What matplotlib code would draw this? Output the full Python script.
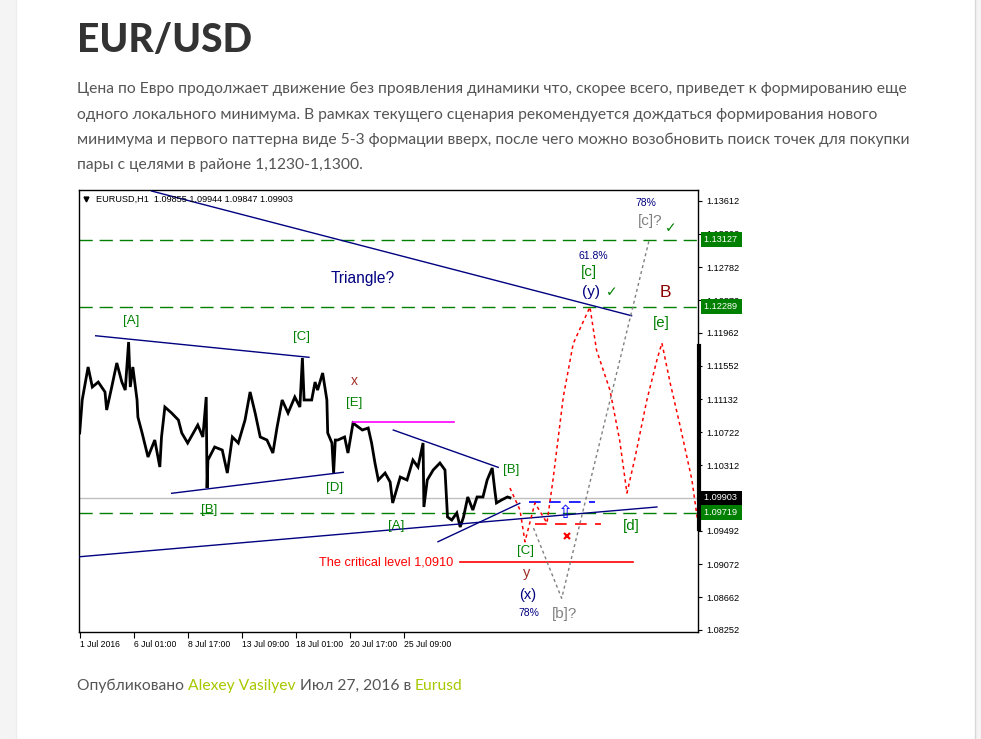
import matplotlib
matplotlib.use('Agg')
import matplotlib.pyplot as plt
from matplotlib.patches import Rectangle

# ---- data (bar index = hours since 1 Jul 2016, price) ----
bars = [0, 3, 10, 15, 22, 30, 32, 38, 44, 50, 54, 58, 60, 63, 68, 69, 74, 81, 89, 95,
        97, 101, 109, 117, 121, 128, 140, 146, 150, 151, 152, 160, 169, 175, 181, 188,
        196, 202, 208, 214, 222, 229, 234, 240, 247, 255, 261, 264, 266, 275, 279, 282,
        288, 293, 294, 299, 301, 303, 306, 314, 318, 324, 335, 342, 346, 350, 354, 362,
        368, 371, 380, 388, 395, 401, 407, 408, 412, 419, 427, 433, 436, 441, 447, 451,
        455, 460, 466, 471, 478, 483, 489, 492, 494, 500, 507, 510]
closes = [1.10712, 1.11124, 1.11536, 1.11286, 1.11348, 1.11224, 1.10999, 1.11286,
          1.11586, 1.11348, 1.11248, 1.11848, 1.11286, 1.11536, 1.11124, 1.10911,
          1.10712, 1.10412, 1.10624, 1.10287, 1.10662, 1.11036, 1.10961, 1.10874,
          1.10712, 1.10587, 1.10811, 1.10662, 1.11161, 1.10025, 1.10374, 1.10537,
          1.10499, 1.10212, 1.10662, 1.10587, 1.10874, 1.11224, 1.10961, 1.10662,
          1.10624, 1.10462, 1.10786, 1.11124, 1.10961, 1.11161, 1.11036, 1.11648,
          1.11124, 1.11124, 1.11348, 1.11248, 1.11461, 1.11124, 1.10712, 1.10587,
          1.10212, 1.10624, 1.10624, 1.10662, 1.10462, 1.10836, 1.10749, 1.10774,
          1.10587, 1.10337, 1.10125, 1.10212, 1.10100, 1.09838, 1.10162, 1.10125,
          1.10374, 1.10287, 1.10587, 1.09788, 1.10125, 1.10250, 1.10337, 1.10250,
          1.09663, 1.09625, 1.09713, 1.09538, 1.09663, 1.09913, 1.09750, 1.09913,
          1.09913, 1.10125, 1.10275, 1.10000, 1.09838, 1.09875, 1.09913, 1.09903]

y_ticks = [1.13612, 1.13202, 1.12782, 1.12372, 1.11962, 1.11552, 1.11132, 1.10722,
           1.10312, 1.09902, 1.09492, 1.09072, 1.08662, 1.08252]
hidden_tick = 1.09902  # fully covered by the last-price box
x_tick_bars = [0, 64, 128, 192, 256, 320, 384]
x_tick_labels = ['1 Jul 2016', '6 Jul 01:00', '8 Jul 17:00', '13 Jul 09:00',
                 '18 Jul 01:00', '20 Jul 17:00', '25 Jul 09:00']

green_levels = [1.13127, 1.12289, 1.09719]
last_price = 1.09903
critical_level = 1.0910

# trend lines: (bar0, price0, bar1, price1)
trend_lines = [(85.3, 1.13733, 654.2, 1.12176),
               (19.0, 1.11926, 271.8, 1.11657),
               (109.0, 1.09959, 312.4, 1.10221),
               (371.7, 1.10749, 496.1, 1.10283),
               (-0.8, 1.09166, 684.2, 1.09788),
               (424.7, 1.09354, 521.6, 1.09834)]
magenta_line = (323.9, 443.6, 1.10843)
critical_span = (450.7, 655.7)
blue_dash = (532.5, 610.7, 1.09846)
red_dash = (539.6, 617.9, 1.09575)

red_path_bars = [510, 521.9, 527.8, 539.6, 553.9, 561, 573.3, 585, 604.8, 612.6, 628.5,
                 640, 648.7, 658.5, 672.3, 684.2, 690.1, 700, 711.9, 725.7, 733]
red_path_prices = [1.10025, 1.09750, 1.09354, 1.09838, 1.09588, 1.10125, 1.11166,
                   1.11828, 1.12285, 1.11748, 1.11248, 1.10624, 1.09962, 1.10416,
                   1.11124, 1.11623, 1.11835, 1.11332, 1.10791, 1.10125, 1.09577]
gray_path_bars = [537.9, 571.3, 675.0]
gray_path_prices = [1.09525, 1.08648, 1.13121]

labels = [  # bar, price, text, colour, size
    (60.8, 1.12110, '[A]', '#008000', 9.5),
    (263.5, 1.11910, '[C]', '#008000', 9.5),
    (325.1, 1.11361, 'x', '#a0302a', 10),
    (325.1, 1.11086, '[E]', '#008000', 9.5),
    (302.6, 1.10025, '[D]', '#008000', 9.5),
    (153.4, 1.09750, '[B]', '#008000', 9.5),
    (374.9, 1.09550, '[A]', '#008000', 9.5),
    (511.1, 1.10250, '[B]', '#008000', 9.5),
    (529.0, 1.09238, '[C]', '#008000', 9.5),
    (529.8, 1.08960, 'y', '#a0302a', 10.5),
    (531.3, 1.08689, '(x)', '#000080', 10.5),
    (532.5, 1.08468, '78%', '#000080', 7.5),
    (575.2, 1.08448, '[b]?', '#808080', 10.8),
    (654.2, 1.09550, '[d]', '#008000', 10.8),
    (689.8, 1.12089, '[e]', '#008000', 10.8),
    (694.5, 1.12468, 'B', '#8b0000', 12.5),
    (676.0, 1.13359, '[c]?', '#808080', 11),
    (670.8, 1.13580, '78%', '#000080', 7.5),
    (608.7, 1.12925, '61.8%', '#000080', 7.5),
    (604.0, 1.12718, '[c]', '#008000', 11),
    (605.6, 1.12468, '(y)', '#000080', 11),
    (335.2, 1.12647, 'Triangle?', '#000080', 11.2),
]
checks = [(700.4, 1.13267), (631.2, 1.12468)]

W, H = 981, 739
fig = plt.figure(figsize=(W / 100, H / 100), dpi=100)
fig.patch.set_facecolor('white')

# page side strips
fig.patches.append(Rectangle((0, 0), 15.5 / W, 1, transform=fig.transFigure,
                             fc='#f4f4f4', ec='none'))
fig.patches.append(Rectangle((975 / W, 0), 6 / W, 1, transform=fig.transFigure,
                             fc='#f4f4f4', ec='none'))
fig.lines.append(plt.Line2D([975 / W, 975 / W], [0, 1], transform=fig.transFigure,
                            color='#d8d8d8', lw=1))
fig.lines.append(plt.Line2D([15.5 / W, 15.5 / W], [0, 1], transform=fig.transFigure,
                            color='#ececec', lw=1))

page_font = ['Lato', 'Open Sans', 'DejaVu Sans']
fig.text(77 / W, 1 - 40 / H, 'EUR/USD', fontsize=28, fontweight='black',
         family=page_font, color='#333333', va='center')
para = ['Цена по Евро продолжает движение без проявления динамики что, скорее всего, приведет к формированию еще',
        'одного локального минимума. В рамках текущего сценария рекомендуется дождаться формирования нового',
        'минимума и первого паттерна виде 5-3 формации вверх, после чего можно возобновить поиск точек для покупки',
        'пары с целями в районе 1,1230-1,1300.']
for i, line in enumerate(para):
    fig.text(77 / W, 1 - (89 + 25.5 * i) / H, line, fontsize=11.25, family=page_font,
             color='#555555', va='center')

# chart axes
ax = fig.add_axes([79 / W, 1 - 632 / H, 619 / W, 442 / H])
ax.set_xlim(-0.8, 732.9)
ax.set_ylim(1.08227, 1.13746)
chart_font = ['Liberation Sans', 'DejaVu Sans']

for lv in green_levels:
    ax.axhline(lv, color='#008000', lw=1, dashes=(9.5, 5), zorder=2)
ax.axhline(last_price, color='#c0c0c0', lw=1, zorder=1)

ax.plot(bars, closes, color='black', lw=2.0, zorder=3, solid_joinstyle='miter')

for b0, p0, b1, p1 in trend_lines:
    ax.plot([b0, b1], [p0, p1], color='#000080', lw=1, zorder=4)
ax.plot(magenta_line[:2], [magenta_line[2]] * 2, color='#ff00ff', lw=1.2, zorder=4)
ax.plot(critical_span, [critical_level] * 2, color='#ff0000', lw=1.2, zorder=4)
ax.plot(blue_dash[:2], [blue_dash[2]] * 2, color='#0000ff', lw=1.2, dashes=(7, 5), zorder=4)
ax.plot(red_dash[:2], [red_dash[2]] * 2, color='#ff0000', lw=1.2, dashes=(7, 5), zorder=4)
ax.plot(red_path_bars, red_path_prices, color='#ff0000', lw=1.1, dashes=(2.2, 2.2), zorder=5)
ax.plot(gray_path_bars, gray_path_prices, color='#808080', lw=1, dashes=(2.2, 2.2), zorder=5)
ax.plot([577.2], [1.09429], marker='x', color='#ff0000', ms=4, mew=1.6, zorder=6)
ax.text(576, 1.09713, '⇧', color='#0000ff', fontsize=13, ha='center', va='center',
        family='DejaVu Sans', zorder=6)

for b, p, s, c, fs in labels:
    ax.text(b, p, s, color=c, fontsize=fs, ha='center', va='center', family=chart_font, zorder=7)
for b, p in checks:
    ax.text(b, p, '✓', color='#008000', fontsize=10, ha='center', va='center',
            family='DejaVu Sans', fontweight='bold', zorder=7)
ax.text(442.9, critical_level, 'The critical level 1,0910', color='#ff0000', fontsize=9.2,
        ha='right', va='center', family=chart_font, zorder=7)

# header
ax.plot([0.012], [0.979], marker='v', color='black', ms=3.5, transform=ax.transAxes, clip_on=False)
ax.text(0.027, 0.979, 'EURUSD,H1  1.09855 1.09944 1.09847 1.09903', transform=ax.transAxes,
        fontsize=6.6, family=chart_font, va='center', ha='left', zorder=8)

# thick bar on the right edge
ax.plot([1.002, 1.002], [0.6477, 0.2341], color='black', lw=3, transform=ax.transAxes,
        clip_on=False, zorder=8)

ax.yaxis.tick_right()
ax.set_yticks(y_ticks)
ax.set_yticklabels(['' if v == hidden_tick else '%.5f' % v for v in y_ticks])
ax.set_xticks(x_tick_bars)
ax.set_xticklabels(x_tick_labels, ha='left')
ax.tick_params(axis='y', labelsize=6.6, length=3, width=0.8, pad=3)
ax.tick_params(axis='x', labelsize=6.2, length=4, width=0.8, pad=2)
for t in ax.get_xticklabels() + ax.get_yticklabels():
    t.set_family(chart_font)
for sp in ax.spines.values():
    sp.set_linewidth(1)

box_style = dict(boxstyle='square,pad=0.3', ec='none')
for lv in green_levels:
    ax.text(1.009, lv, '%.5f ' % lv, transform=ax.get_yaxis_transform(), color='white',
            fontsize=6.6, family=chart_font, va='center', ha='left', clip_on=False,
            bbox=dict(box_style, fc='#008000'), zorder=10)
ax.text(1.009, last_price, '%.5f ' % last_price, transform=ax.get_yaxis_transform(),
        color='white', fontsize=6.6, family=chart_font, va='center', ha='left',
        clip_on=False, bbox=dict(box_style, fc='black'), zorder=10)

# footer line with coloured links
fig.canvas.draw()
r = fig.canvas.get_renderer()
parts = [('Опубликовано ', '#555555'), ('Alexey Vasilyev', '#a8c800'),
         (' Июл 27, 2016 в ', '#555555'), ('Eurusd', '#a8c800')]
x = 77
for s, c in parts:
    t = fig.text(x / W, 1 - 686 / H, s, fontsize=11.25, family=page_font, color=c, va='center')
    x = t.get_window_extent(r).x1

fig.savefig('out.png', dpi=100)
